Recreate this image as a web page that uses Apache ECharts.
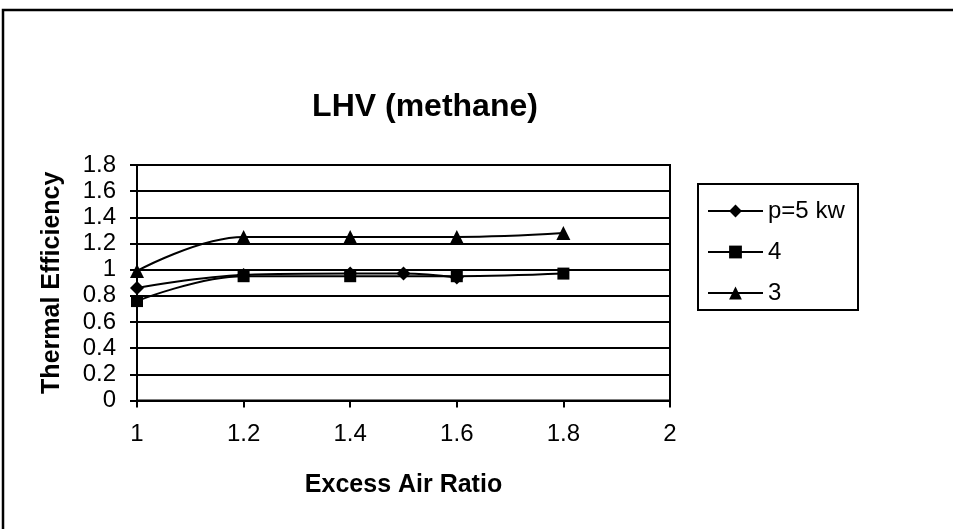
<!DOCTYPE html>
<html>
<head>
<meta charset="utf-8">
<script src="https://cdn.jsdelivr.net/npm/echarts@6/dist/echarts.min.js"></script>
<style>
  html, body { margin: 0; padding: 0; background: #fff; }
  #chart { width: 953px; height: 529px; }
</style>
</head>
<body>
<div id="chart"></div>
<script>
// Thermal efficiency (LHV basis, methane) vs excess air ratio, for three burner powers
const seriesNames = ['p=5 kw', '4', '3'];

const airRatio5kw = [1.0, 1.2, 1.4, 1.5, 1.6];
const efficiency5kw = [0.86, 0.96, 0.97, 0.97, 0.94];

const airRatio4kw = [1.0, 1.2, 1.4, 1.6, 1.8];
const efficiency4kw = [0.76, 0.95, 0.95, 0.95, 0.97];

const airRatio3kw = [1.0, 1.2, 1.4, 1.6, 1.8];
const efficiency3kw = [0.99, 1.25, 1.25, 1.25, 1.28];

const xTicks = [1, 1.2, 1.4, 1.6, 1.8, 2];
const yTicks = [0, 0.2, 0.4, 0.6, 0.8, 1, 1.2, 1.4, 1.6, 1.8];

const FONT = '"Liberation Sans", Arial, sans-serif';

function pairs(xs, ys) {
  return xs.map((x, i) => [x, ys[i]]);
}

const lineStyle = { color: '#000', width: 2 };
const itemStyle = { color: '#000' };

const chart = echarts.init(document.getElementById('chart'), null, { renderer: 'canvas' });

chart.setOption({
  backgroundColor: '#fff',
  animation: false,
  textStyle: { fontFamily: FONT, color: '#000' },
  title: {
    text: 'LHV (methane)',
    left: 425,
    top: 91,
    textAlign: 'center',
    padding: 0,
    textStyle: { fontFamily: FONT, fontSize: 32, fontWeight: 'bold', color: '#000' }
  },
  graphic: [
    {
      type: 'rect',
      shape: { x: 3, y: 10, width: 970, height: 540 },
      style: { fill: 'none', stroke: '#000', lineWidth: 2.5 },
      silent: true
    },
    {
      type: 'rect',
      shape: { x: 698, y: 184, width: 160, height: 126 },
      style: { fill: 'none', stroke: '#000', lineWidth: 2 },
      silent: true
    }
  ],
  legend: {
    orient: 'vertical',
    left: 707,
    top: 199,
    padding: 0,
    itemWidth: 55,
    itemHeight: 16,
    itemGap: 17,
    data: seriesNames,
    textStyle: { fontFamily: FONT, fontSize: 24, color: '#000' }
  },
  grid: {
    left: 137,
    top: 165,
    width: 533,
    height: 235.5,
    show: true,
    borderColor: '#000',
    borderWidth: 2,
    containLabel: false
  },
  xAxis: {
    type: 'value',
    min: 1,
    max: 2,
    interval: 0.2,
    name: 'Excess Air Ratio',
    nameLocation: 'middle',
    nameGap: 72,
    nameTextStyle: { fontFamily: FONT, fontSize: 25, fontWeight: 'bold', color: '#000' },
    axisLine: { show: true, lineStyle: { color: '#000', width: 2 } },
    axisTick: { show: true, length: 7, lineStyle: { color: '#000', width: 2 } },
    axisLabel: {
      margin: 22,
      fontFamily: FONT,
      fontSize: 24,
      color: '#000',
      formatter: v => String(xTicks.find(t => Math.abs(t - v) < 1e-6) ?? v)
    },
    splitLine: { show: false }
  },
  yAxis: [
    {
      type: 'value',
      min: 0,
      max: 1.8,
      interval: 0.2,
      name: 'Thermal Efficiency',
      nameLocation: 'middle',
      nameGap: 72,
      nameTextStyle: { fontFamily: FONT, fontSize: 25, fontWeight: 'bold', color: '#000' },
      axisLine: { show: true, lineStyle: { color: '#000', width: 2 } },
      axisTick: { show: true, length: 7, lineStyle: { color: '#000', width: 2 } },
      axisLabel: {
        margin: 21,
        fontFamily: FONT,
        fontSize: 24,
        color: '#000',
        formatter: v => String(yTicks.find(t => Math.abs(t - v) < 1e-6) ?? v)
      },
      splitLine: { show: true, lineStyle: { color: '#000', width: 2 } }
    },
    {
      // inner half of the crossing ticks on the value axis
      type: 'value',
      position: 'left',
      min: 0,
      max: 1.8,
      interval: 0.2,
      axisLine: { show: false },
      axisTick: { show: true, inside: true, length: 7, lineStyle: { color: '#000', width: 2 } },
      axisLabel: { show: false },
      splitLine: { show: false }
    }
  ],
  series: [
    {
      name: seriesNames[0],
      type: 'line',
      smooth: 0.4,
      symbol: 'diamond',
      symbolSize: 14,
      lineStyle: lineStyle,
      itemStyle: itemStyle,
      data: pairs(airRatio5kw, efficiency5kw),
      z: 3
    },
    {
      name: seriesNames[1],
      type: 'line',
      smooth: 0.4,
      symbol: 'rect',
      symbolSize: 12,
      lineStyle: lineStyle,
      itemStyle: itemStyle,
      data: pairs(airRatio4kw, efficiency4kw),
      z: 4
    },
    {
      name: seriesNames[2],
      type: 'line',
      smooth: 0.4,
      symbol: 'triangle',
      symbolSize: 14,
      lineStyle: lineStyle,
      itemStyle: itemStyle,
      data: pairs(airRatio3kw, efficiency3kw),
      z: 3
    }
  ]
});
</script>
</body>
</html>
